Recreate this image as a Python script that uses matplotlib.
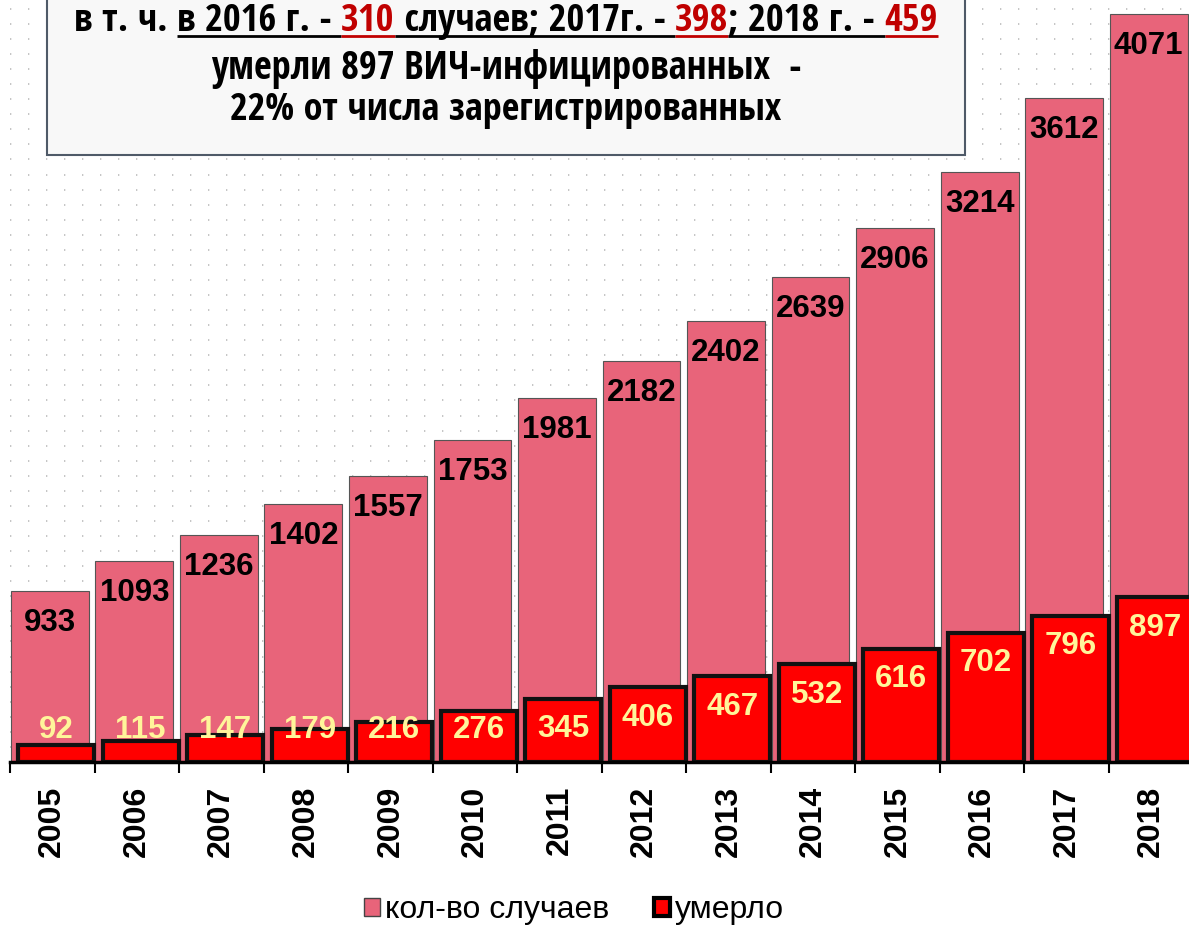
import matplotlib
matplotlib.use("Agg")
import matplotlib.pyplot as plt
from matplotlib import font_manager
from matplotlib.font_manager import FontProperties
from matplotlib.patches import Rectangle, Patch
from matplotlib.lines import Line2D
import numpy as np

# data
years = ["2005", "2006", "2007", "2008", "2009", "2010", "2011",
         "2012", "2013", "2014", "2015", "2016", "2017", "2018"]
cases = [933, 1093, 1236, 1402, 1557, 1753, 1981, 2182, 2402, 2639, 2906, 3214, 3612, 4071]
died = [92, 115, 147, 179, 216, 276, 345, 406, 467, 532, 616, 702, 796, 897]
legend_labels = ["кол-во случаев", "умерло"]

# title lines: (text, color, underlined)
title_parts = [("в т. ч. ", "black", False),
               ("в 2016 г. - ", "black", True),
               ("310", "#C00000", True),
               (" случаев; 2017г. - ", "black", True),
               ("398", "#C00000", True),
               ("; 2018 г. - ", "black", True),
               ("459", "#C00000", True)]
line2 = "умерли 897 ВИЧ-инфицированных  -"
line3 = "22% от числа зарегистрированных"

PINK = "#E8647A"
RED = "#FF0000"
YELLOW = "#FFF59A"
LFONT = "Liberation Sans"


def pick_title_font():
    # a condensed bold face looks closest to the Calibri of the original
    cands = []
    for f in font_manager.fontManager.ttflist:
        st = str(f.stretch).lower()
        cond = "condensed" in st or "condensed" in f.name.lower() or "narrow" in f.name.lower() \
            or (isinstance(f.stretch, int) and f.stretch < 500)
        bold = f.weight in (600, 700, "bold", "semibold", "demibold")
        if cond and bold and "extra" not in st and "ultra" not in st and f.style == "normal":
            cands.append(f)
    order = ["Noto Sans", "Open Sans", "Roboto", "Liberation Sans Narrow", "DejaVu Sans"]
    for name in order:
        for f in cands:
            if f.name.startswith(name):
                return FontProperties(fname=f.fname)
    return FontProperties(family="Lato", weight="bold")


TPROP = pick_title_font()

W, H = 1189, 926
fig = plt.figure(figsize=(W / 100, H / 100), dpi=100)
ax = fig.add_axes([10 / W, 1 - 762 / H, 1183.5 / W, 762 / H])

x = np.arange(len(years))
ax.bar(x - 0.03, cases, width=0.92, color=PINK, edgecolor="#555555", linewidth=0.8, zorder=2)
ax.bar(x + 0.045, died, width=0.9, color=RED, edgecolor="#111111", linewidth=3.0, zorder=3)

for xi, c in zip(x, cases):
    ax.text(xi - 0.03, c - 174, str(c), ha="center", va="center", fontsize=22.5,
            fontweight="bold", family=LFONT, color="black", zorder=5)
for xi, d in zip(x, died):
    ax.text(xi + 0.045, max(d - 165, 174), str(d), ha="center", va="center", fontsize=22.5,
            fontweight="bold", family=LFONT, color=YELLOW, zorder=5)

ax.set_xlim(-0.5, len(years) - 0.5)
ax.set_ylim(0, 4148)

# faint dot grid in background
ax.set_yticks(np.arange(82, 4148, 82))
ax.tick_params(axis="y", length=0, labelleft=False)
ax.grid(axis="y", color="#BBBBBB", linewidth=1.2, linestyle=(0, (0.8, 10)), zorder=0)

ax.set_xticks(x)
ax.set_xticklabels(years, rotation=90, fontsize=23, fontweight="bold", family=LFONT)
ax.tick_params(axis="x", which="major", length=0, pad=17)
ax.set_xticks(np.arange(-0.5, len(years), 1), minor=True)
ax.tick_params(axis="x", which="minor", length=8, width=1.5, color="black")

for s in ["top", "right", "left"]:
    ax.spines[s].set_visible(False)
ax.spines["bottom"].set_linewidth(2.5)
ax.spines["bottom"].set_zorder(6)

# title box
fig.add_artist(Rectangle((47 / W, 1 - 155 / H), 918 / W, 170 / H, transform=fig.transFigure,
                         facecolor="#F8F8F8", edgecolor="#4F5A68", linewidth=1.5, zorder=10))

fig.canvas.draw()
r = fig.canvas.get_renderer()


def tprop(fs):
    p = TPROP.copy()
    p.set_size(fs)
    return p


def text_w(s, fs):
    t = fig.text(0, 0, s + "|", fontproperties=tprop(fs))
    w = t.get_window_extent(renderer=r).width
    t.remove()
    t = fig.text(0, 0, "|", fontproperties=tprop(fs))
    w -= t.get_window_extent(renderer=r).width
    t.remove()
    return w


def fit_size(s, target):
    return 20 * target / text_w(s, 20)


cx = 506
full1 = "".join(p[0] for p in title_parts)
fs1 = fit_size(full1, 862)
start = cx - text_w(full1, fs1) / 2
prefix = ""
for seg, col, ul in title_parts:
    xs = start + (text_w(prefix, fs1) if prefix else 0)
    fig.text(xs / W, 1 - 31 / H, seg, ha="left", va="baseline", fontproperties=tprop(fs1),
             color=col, zorder=11)
    if ul:
        w = text_w(seg, fs1)
        fig.add_artist(Line2D([xs / W, (xs + w) / W], [1 - 35.5 / H, 1 - 35.5 / H],
                              transform=fig.transFigure, color=col, linewidth=2,
                              solid_capstyle="butt", zorder=11))
    prefix += seg

fs2 = fit_size(line2, 590)
fig.text(cx / W, 1 - 79 / H, line2, ha="center", va="baseline", fontproperties=tprop(fs2),
         color="black", zorder=11)
fs3 = fit_size(line3, 552)
fig.text(cx / W, 1 - 120 / H, line3, ha="center", va="baseline", fontproperties=tprop(fs3),
         color="black", zorder=11)

handles = [Patch(facecolor=PINK, edgecolor="#444444", linewidth=1),
           Patch(facecolor=RED, edgecolor="black", linewidth=3)]
fig.legend(handles, legend_labels, loc="center", bbox_to_anchor=(574 / W, 1 - 910 / H),
           ncol=2, frameon=False, handlelength=0.5, handleheight=0.5, handletextpad=0.15,
           columnspacing=1.4, prop={"family": LFONT, "size": 23})

fig.savefig("out.png", dpi=100)
